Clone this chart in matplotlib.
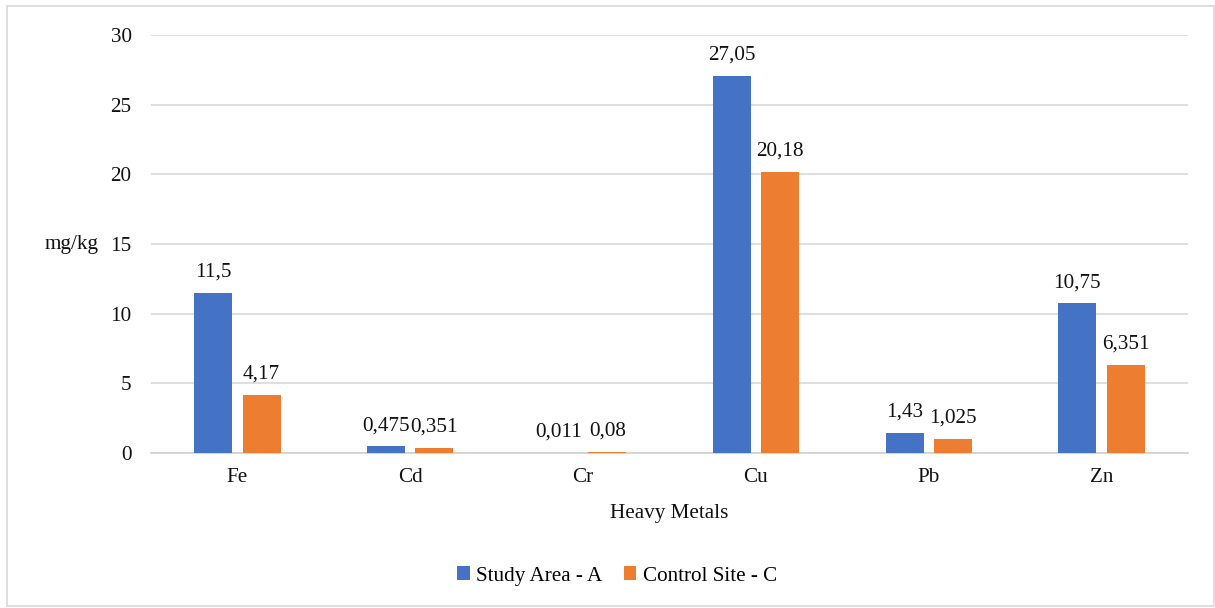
import matplotlib
matplotlib.use("Agg")
import matplotlib.pyplot as plt
import numpy as np
from matplotlib.patches import Rectangle

metals = ["Fe", "Cd", "Cr", "Cu", "Pb", "Zn"]
study_area = [11.5, 0.475, 0.011, 27.05, 1.43, 10.75]
control_site = [4.17, 0.351, 0.08, 20.18, 1.025, 6.351]
study_labels = ["11,5", "0,475", "0,011", "27,05", "1,43", "10,75"]
control_labels = ["4,17", "0,351", "0,08", "20,18", "1,025", "6,351"]
series_names = ["Study Area - A", "Control Site - C"]
yticks = [0, 5, 10, 15, 20, 25, 30]

plt.rcParams["font.family"] = ["Liberation Serif", "DejaVu Serif"]
BLUE = "#4472C4"
ORANGE = "#ED7D31"
FS = 15.2

fig = plt.figure(figsize=(12.15, 6.08), dpi=100)
fig.patches.append(Rectangle((7 / 1215, 2 / 608), 1207 / 1215, 600 / 608,
                             transform=fig.transFigure, fill=False,
                             edgecolor="#D9D9D9", linewidth=1.2))
ax = fig.add_axes([151 / 1215, 1 - 453 / 608, 1037 / 1215, 418 / 608])

x = np.arange(len(metals))
w = 0.22
off = 0.14
b1 = ax.bar(x - off, study_area, w, color=BLUE, label=series_names[0], zorder=3)
b2 = ax.bar(x + off, control_site, w, color=ORANGE, label=series_names[1], zorder=3)

for bars, labels in ((b1, study_labels), (b2, control_labels)):
    for rect, lab in zip(bars, labels):
        ax.annotate(lab, (rect.get_x() + rect.get_width() / 2, rect.get_height()),
                    xytext=(0, 8), textcoords="offset points",
                    ha="center", va="bottom", fontsize=FS, color="#111111")

ax.set_xlim(-0.5, len(metals) - 0.5)
ax.set_ylim(0, 30)
ax.set_yticks(yticks)
ax.set_yticklabels([str(t) for t in yticks], fontsize=FS)
ax.set_xticks(x)
ax.set_xticklabels(metals, fontsize=FS)
ax.tick_params(axis="both", length=0, colors="#111111")
ax.tick_params(axis="y", pad=14)
ax.tick_params(axis="x", pad=11)
ax.grid(axis="y", color="#D9D9D9", linewidth=1.2, zorder=0)
for s in ("top", "right", "left"):
    ax.spines[s].set_visible(False)
ax.spines["bottom"].set_color("#D0D0D0")
ax.spines["bottom"].set_linewidth(1.2)

ax.set_xlabel("Heavy Metals", fontsize=FS, labelpad=12, color="#111111")
fig.text(72 / 1215, 1 - 245 / 608, "mg/kg", fontsize=FS, ha="center", va="center", color="#111111")

fig.legend(handles=[b1, b2], labels=series_names, loc="center",
           bbox_to_anchor=(617 / 1215, 1 - 576 / 608), ncol=2, frameon=False,
           fontsize=FS, handlelength=0.6, handleheight=0.6, handletextpad=0.3,
           columnspacing=1.0)

fig.savefig("out.png", dpi=100)
